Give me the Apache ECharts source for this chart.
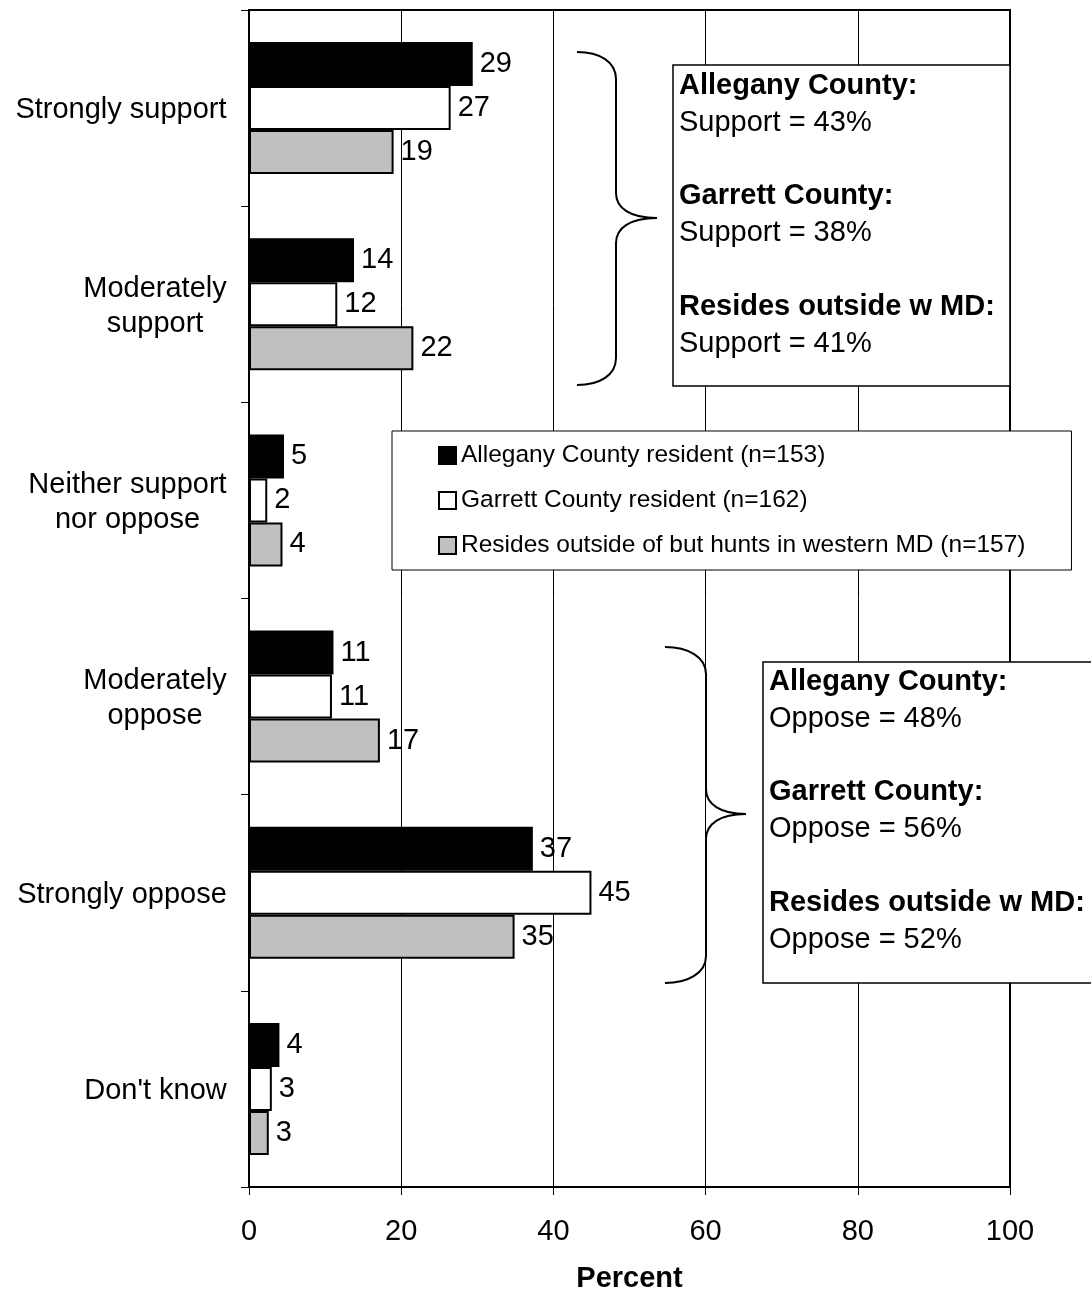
<!DOCTYPE html>
<html>
<head>
<meta charset="utf-8">
<script src="https://cdn.jsdelivr.net/npm/echarts@6/dist/echarts.min.js"></script>
<style>
  html, body { margin: 0; padding: 0; background: #fff; }
  #chart { width: 1091px; height: 1289px; }
</style>
</head>
<body>
<div id="chart"></div>
<script>
// --- data ---
var categories = ['Strongly support', 'Moderately\nsupport', 'Neither support\nnor oppose', 'Moderately\noppose', 'Strongly oppose', "Don't know"];
var seriesNames = ['Allegany County resident (n=153)', 'Garrett County resident (n=162)', 'Resides outside of but hunts in western MD (n=157)'];
var allegany = [29.4, 13.8, 4.6, 11.1, 37.3, 4.0];
var garrett = [26.5, 11.6, 2.4, 10.9, 45.0, 3.0];
var outside = [19.0, 21.6, 4.4, 17.2, 34.9, 2.6];
var xMin = 0, xMax = 100, xStep = 20;
var supportNotes = [['Allegany County:', 'Support = 43%'], ['Garrett County:', 'Support = 38%'], ['Resides outside w MD:', 'Support = 41%']];
var opposeNotes = [['Allegany County:', 'Oppose = 48%'], ['Garrett County:', 'Oppose = 56%'], ['Resides outside w MD:', 'Oppose = 52%']];

var FONT = '"Liberation Sans", Arial, sans-serif';
var FS = 29;

// multi-line category labels: lines centred on each other, block right-aligned
var ctx = document.createElement('canvas').getContext('2d');
ctx.font = FS + 'px ' + FONT;
var catRich = {};
categories.forEach(function (c, i) {
  var w = Math.max.apply(null, c.split('\n').map(function (l) { return ctx.measureText(l).width; }));
  catRich['c' + i] = { width: Math.ceil(w), align: 'center', fontSize: FS, lineHeight: 35, fontFamily: FONT, color: '#000', padding: [4, 0, 0, 0] };
});

function noteText(notes) {
  return notes.map(function (n) {
    return '{b|' + n[0] + '}\n{n|' + n[1] + '}';
  }).join('\n{n| }\n');
}
var noteRich = {
  b: { fontWeight: 'bold', fontSize: FS, lineHeight: 36.8, fontFamily: FONT, fill: '#000' },
  n: { fontSize: FS, lineHeight: 36.8, fontFamily: FONT, fill: '#000' }
};

// curly brace: x0 = tip ends, xs = spine, xp = point
function brace(x0, xs, xp, yTop, yMid, yBot) {
  var st = { fill: 'none', stroke: '#000', lineWidth: 2 };
  var c = 27, k = 25;
  return [
    { type: 'bezierCurve', z: 100, shape: { x1: x0, y1: yTop, cpx1: x0 + 23, cpy1: yTop, cpx2: xs, cpy2: yTop + 10, x2: xs, y2: yTop + c }, style: st },
    { type: 'line', z: 100, shape: { x1: xs, y1: yTop + c, x2: xs, y2: yMid - k }, style: st },
    { type: 'bezierCurve', z: 100, shape: { x1: xs, y1: yMid - k, cpx1: xs, cpy1: yMid - 10, cpx2: xs + 14, cpy2: yMid, x2: xp, y2: yMid }, style: st },
    { type: 'bezierCurve', z: 100, shape: { x1: xp, y1: yMid, cpx1: xs + 14, cpy1: yMid, cpx2: xs, cpy2: yMid + 10, x2: xs, y2: yMid + k }, style: st },
    { type: 'line', z: 100, shape: { x1: xs, y1: yMid + k, x2: xs, y2: yBot - c }, style: st },
    { type: 'bezierCurve', z: 100, shape: { x1: xs, y1: yBot - c, cpx1: xs, cpy1: yBot - 10, cpx2: x0 + 23, cpy2: yBot, x2: x0, y2: yBot }, style: st }
  ];
}

function barSeries(name, data, color) {
  return {
    name: name, type: 'bar', data: data,
    barGap: '0%', barCategoryGap: '32.7%',
    itemStyle: { color: color, borderColor: '#000', borderWidth: 2 },
    label: {
      show: true, position: 'right', distance: 7,
      fontSize: FS, fontFamily: FONT, color: '#000',
      formatter: function (p) { return Math.round(p.value); }
    }
  };
}

var chart = echarts.init(document.getElementById('chart'));
chart.setOption({
  animation: false,
  backgroundColor: '#fff',
  textStyle: { fontFamily: FONT },
  grid: { left: 249, right: 81, top: 10, bottom: 102, outerBoundsMode: 'none', show: true, borderColor: '#000', borderWidth: 2 },
  legend: {
    data: seriesNames, orient: 'vertical', left: 392, top: 431,
    icon: 'rect', itemWidth: 17, itemHeight: 17, itemGap: 20,
    padding: [12, 46, 12, 46],
    backgroundColor: '#fff', borderColor: '#000', borderWidth: 1,
    textStyle: { fontSize: 24.5, lineHeight: 25, color: '#000', fontFamily: FONT }
  },
  xAxis: {
    type: 'value', min: xMin, max: xMax, interval: xStep,
    name: 'Percent', nameLocation: 'middle', nameGap: 77,
    nameTextStyle: { fontSize: FS, fontWeight: 'bold', color: '#000', fontFamily: FONT },
    axisLine: { show: true, lineStyle: { color: '#000', width: 2 } },
    axisTick: { show: true, length: 8, lineStyle: { color: '#000', width: 1 } },
    axisLabel: { fontSize: FS, color: '#000', margin: 30, fontFamily: FONT },
    splitLine: { show: true, lineStyle: { color: '#000', width: 1 } }
  },
  yAxis: {
    type: 'category', data: categories, inverse: true,
    axisLine: { show: true, lineStyle: { color: '#000', width: 2 } },
    axisTick: { show: true, length: 8, lineStyle: { color: '#000', width: 1 } },
    axisLabel: {
      margin: 22, align: 'right', rich: catRich,
      formatter: function (v, i) {
        return v.split('\n').map(function (l) { return '{c' + i + '|' + l + '}'; }).join('\n');
      }
    }
  },
  series: [
    barSeries(seriesNames[0], allegany, '#000'),
    barSeries(seriesNames[1], garrett, '#fff'),
    barSeries(seriesNames[2], outside, '#c0c0c0')
  ],
  graphic: [].concat(
    brace(577, 616, 657, 52, 218, 385),
    [
      { type: 'rect', z: 100, shape: { x: 673, y: 65, width: 337, height: 321 },
        style: { fill: '#fff', stroke: '#000', lineWidth: 1.5 } },
      { type: 'text', z: 101, x: 679, y: 67.6,
        style: { text: noteText(supportNotes), rich: noteRich, verticalAlign: 'top', font: FS + 'px ' + FONT } }
    ],
    brace(665, 706, 746, 647, 814, 983),
    [
      { type: 'rect', z: 100, shape: { x: 763, y: 662, width: 335, height: 321 },
        style: { fill: '#fff', stroke: '#000', lineWidth: 1.5 } },
      { type: 'text', z: 101, x: 769, y: 663.6,
        style: { text: noteText(opposeNotes), rich: noteRich, verticalAlign: 'top', font: FS + 'px ' + FONT } }
    ]
  )
});
</script>
</body>
</html>
